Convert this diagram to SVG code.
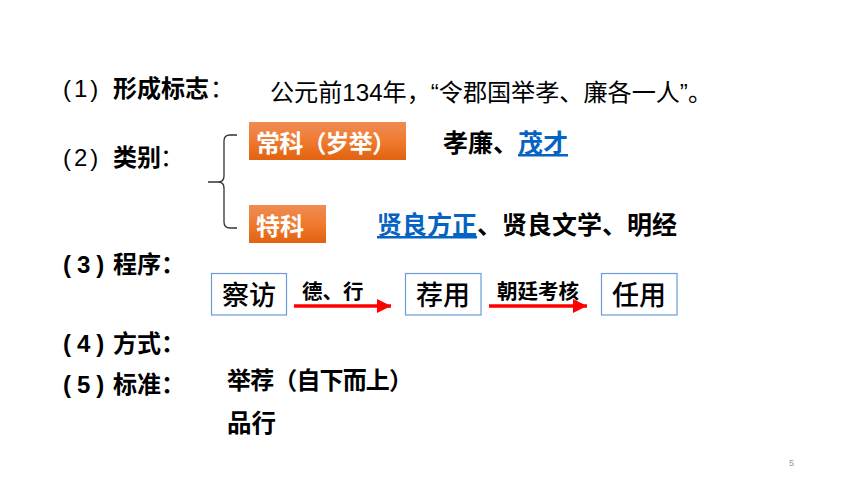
<svg xmlns="http://www.w3.org/2000/svg" width="860" height="484" viewBox="0 0 860 484">
<defs>
<linearGradient id="og" x1="0" y1="0" x2="0" y2="1">
<stop offset="0" stop-color="#F08C54"/>
<stop offset="0.5" stop-color="#EE7A30"/>
<stop offset="1" stop-color="#E2620F"/>
</linearGradient>
<marker id="ah" markerWidth="4" markerHeight="4" refX="4" refY="2" orient="auto" markerUnits="strokeWidth">
<path d="M0,0 L4,2 L0,4 Z" fill="#FF0000"/>
</marker>
<style>
text{font-family:"Liberation Sans","Noto Sans CJK SC",sans-serif;fill:#000}
.h{font-size:24px}
.b{font-weight:bold}
.num{font-size:24px;letter-spacing:6px}
.num2{font-size:24px;letter-spacing:3px}
.w{fill:#fff;font-weight:bold;font-size:24px}
.blue{fill:#0563C1;text-decoration:underline}
.tag{fill:url(#og)}
.box{fill:#fff;stroke:#6A9BD8;stroke-width:1.2}
.bx{font-size:27px;font-weight:500}
.lab{font-size:20.5px;font-weight:bold}
.arr{stroke:#FF0000;stroke-width:3.5;fill:none;marker-end:url(#ah)}
</style>
</defs>
<rect width="860" height="484" fill="#fff"/>

<g id="item1">
<text class="num2" x="63" y="97">(1)</text>
<text class="h b" x="113" y="97">形成标志</text>
<text class="h" x="210" y="97">：</text>
<text class="h" x="270" y="101" textLength="442" lengthAdjust="spacingAndGlyphs">公元前134年，“令郡国举孝、廉各一人”。</text>
</g>

<g id="item2">
<text class="num2" x="63" y="166">(2)</text>
<text class="h b" x="113" y="166">类别</text>
<text class="h" x="160" y="166">：</text>
<path d="M208,182 H218 Q224,182 224,176 V141 Q224,135 230,135 H237 M224,188 V222 Q224,228 230,228 H237 M218,182 Q224,182 224,188" fill="none" stroke="#333" stroke-width="1.3"/>
</g>

<g id="changke">
<rect class="tag" x="249" y="122" width="157" height="38"/>
<text class="w" x="256" y="152" textLength="140">常科（岁举）</text>
</g>
<text class="h b" x="443" y="152" style="font-size:25px">孝廉、<tspan class="blue">茂才</tspan></text>

<g id="teke">
<rect class="tag" x="249" y="205" width="77" height="38"/>
<text class="w" x="256" y="235">特科</text>
</g>
<text class="h b" x="377" y="234" style="font-size:25px"><tspan class="blue">贤良方正</tspan>、贤良文学、明经</text>

<g id="item3">
<text class="num b" x="63" y="273">(3)</text>
<text class="h b" x="113" y="273">程序：</text>
</g>

<g id="n1">
<rect class="box" x="211.5" y="273.5" width="75" height="41.5"/>
<text class="bx" x="249" y="305" text-anchor="middle">察访</text>
</g>
<g id="n2">
<rect class="box" x="405.5" y="273.5" width="75.5" height="41.5"/>
<text class="bx" x="443" y="305" text-anchor="middle">荐用</text>
</g>
<g id="n3">
<rect class="box" x="601.5" y="273.5" width="75.5" height="41.5"/>
<text class="bx" x="639" y="305" text-anchor="middle">任用</text>
</g>

<g id="connectors">
<line class="arr" x1="294" y1="306" x2="391" y2="306"/>
<text class="lab" x="302" y="299">德、行</text>
<line class="arr" x1="489" y1="306" x2="587" y2="306"/>
<text class="lab" x="497" y="299">朝廷考核</text>
</g>

<g id="item4">
<text class="num b" x="63" y="352">(4)</text>
<text class="h b" x="113" y="352">方式：</text>
</g>
<g id="item5">
<text class="num b" x="63" y="393">(5)</text>
<text class="h b" x="113" y="393">标准：</text>
<text class="h b" x="227" y="389" textLength="186">举荐（自下而上）</text>
<text class="h b" x="227" y="432" style="font-size:24.5px">品行</text>
</g>

<text x="789" y="466" font-size="9" style="fill:#999">5</text>
</svg>
